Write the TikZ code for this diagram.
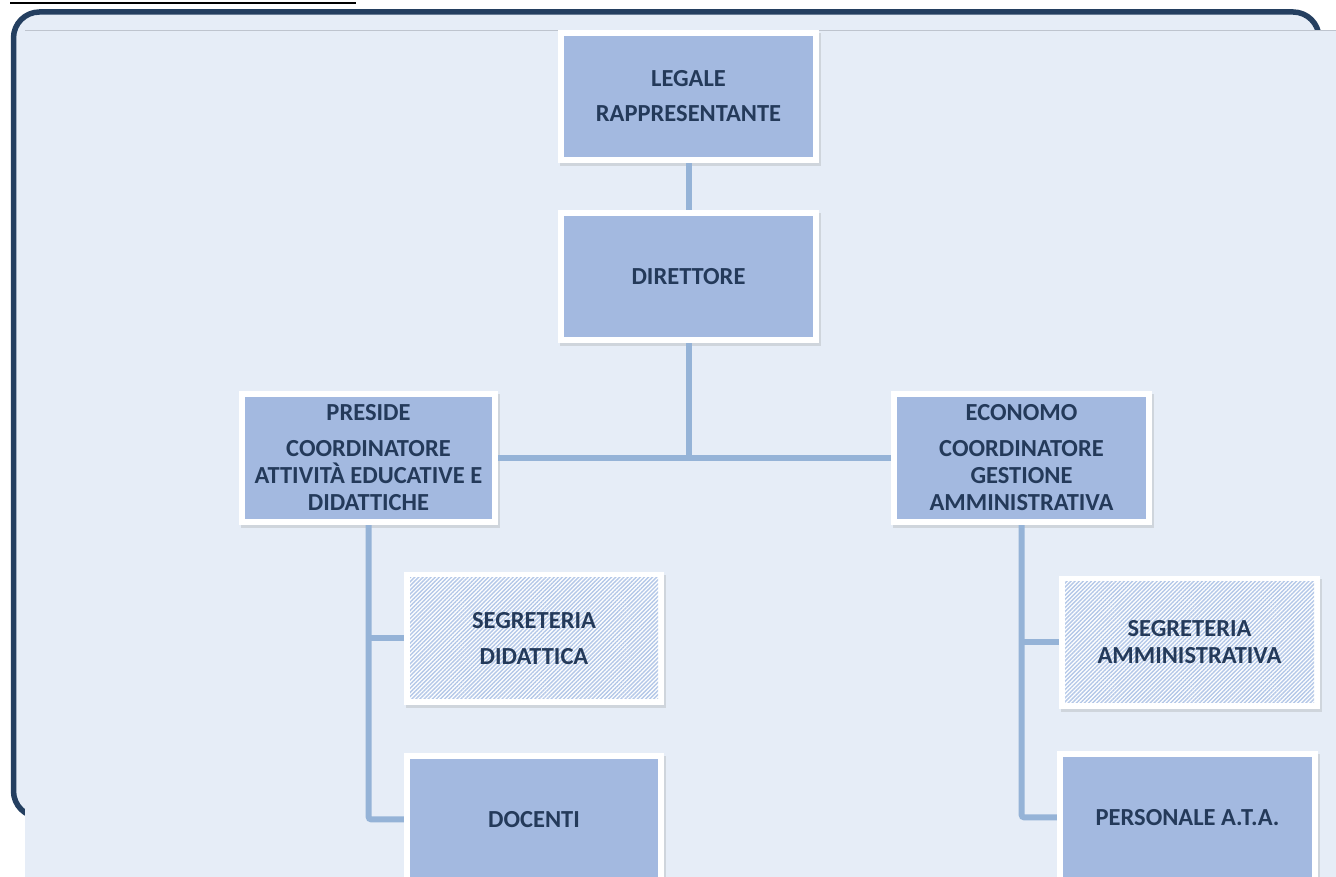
\documentclass[tikz,border=0pt]{standalone}
\usepackage{fontspec}
\setmainfont{Carlito}
\usetikzlibrary{shadows,patterns.meta}
\definecolor{boxfill}{RGB}{163,185,224}
\definecolor{panelcol}{RGB}{230,237,247}
\definecolor{linkcol}{RGB}{149,179,215}
\definecolor{framecol}{RGB}{36,63,96}
\definecolor{textcol}{RGB}{36,58,90}
\definecolor{hatchcol}{RGB}{180,200,232}
\definecolor{topline}{RGB}{190,196,206}
\begin{document}
\begin{tikzpicture}[x=1pt,y=1pt,
  basebox/.style={minimum width=261pt, minimum height=133pt, inner sep=0pt,
    fill=white, align=center, text=textcol,
    font=\bfseries\fontsize{24.5}{27}\selectfont,
    drop shadow={shadow xshift=1.5pt, shadow yshift=-3pt, opacity=0.22},
    path picture={\fill[#1] ([shift={(6pt,6pt)}]path picture bounding box.south west)
      rectangle ([shift={(-6pt,-6pt)}]path picture bounding box.north east);}},
  box/.style={basebox={boxfill}},
  hatchbox/.style={basebox={pattern={Lines[angle=45,distance=2.9pt,line width=1.4pt]}, pattern color=hatchcol}},
  link/.style={draw=linkcol, line width=6pt}
]
\useasboundingbox (0,0) rectangle (1336,877);
% frame and panel
\draw[draw=framecol, line width=5.5pt, fill=panelcol, rounded corners=26pt] (13.5,865) rectangle (1319,60);
\fill[panelcol] (25,0) rectangle (1336,846);
\draw[topline, line width=1pt] (25,846) -- (1336,846);
\draw[black, line width=2pt] (10,873.5) -- (356,873.5);
% boxes
\node[box] (legale) at (688.5,780.5) {LEGALE\\[8pt]RAPPRESENTANTE};
\node[box] (direttore) at (688.5,600.5) {DIRETTORE};
\node[box, minimum width=259pt, minimum height=134pt] (preside) at (368.5,419)
  {PRESIDE\\[9pt]COORDINATORE\\ATTIVITÀ EDUCATIVE E\\DIDATTICHE};
\node[box, minimum height=134pt] (economo) at (1021.5,419)
  {ECONOMO\\[9pt]COORDINATORE\\GESTIONE\\AMMINISTRATIVA};
\node[hatchbox, minimum width=260pt] (segdid) at (534,238.5) {SEGRETERIA\\[9pt]DIDATTICA};
\node[box, minimum width=260pt] (docenti) at (534,57.5) {DOCENTI};
\node[hatchbox] (segamm) at (1189.5,234.5) {SEGRETERIA\\AMMINISTRATIVA};
\node[box] (personale) at (1187.5,59.5) {PERSONALE A.T.A.};
% connectors
\coordinate (junc) at (direttore.south |- preside.east);
\draw[link] (legale.south) -- (direttore.north);
\draw[link] (direttore.south) -- (junc);
\draw[link] (preside.east) -- (economo.west);
\draw[link, rounded corners=3pt] (preside.south) |- (docenti.west);
\draw[link] (preside.south |- segdid.west) -- (segdid.west);
\draw[link, rounded corners=3pt] (economo.south) |- (personale.west);
\draw[link] (economo.south |- segamm.west) -- (segamm.west);
\end{tikzpicture}
\end{document}
